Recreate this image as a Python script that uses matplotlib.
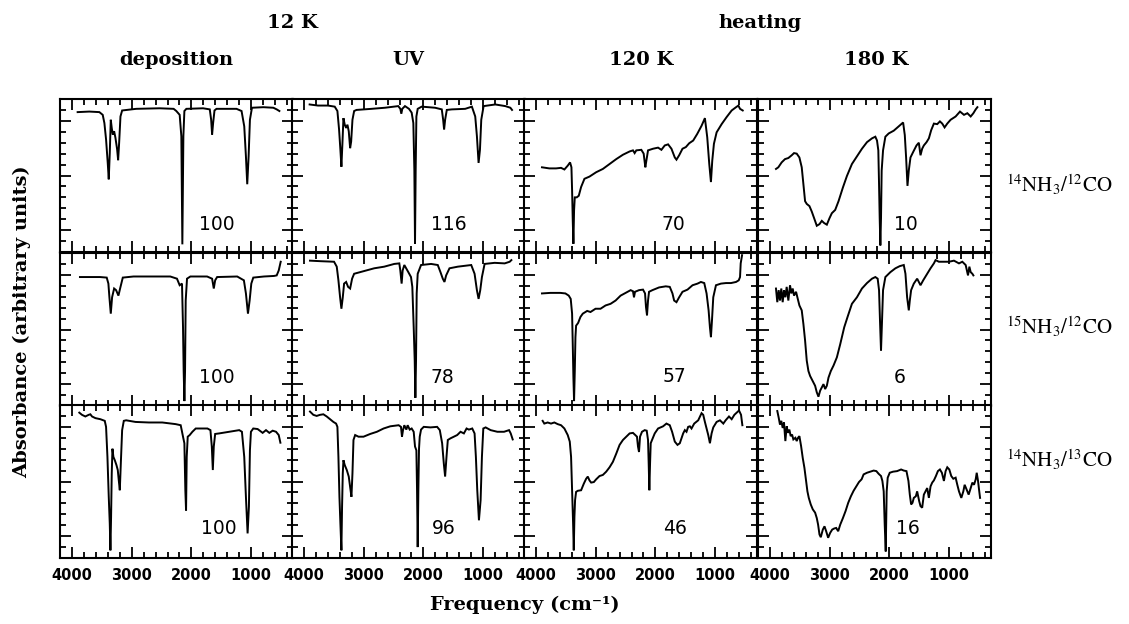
import matplotlib
matplotlib.use("Agg")
import matplotlib.pyplot as plt
from matplotlib.ticker import FixedLocator, MultipleLocator

plt.rcParams["mathtext.fontset"] = "stix"

# ---------------- data (wavenumber cm^-1, absorbance arbitrary units) -------------
wn_r0c0 = [3905,3709,3541,3485,3457,3429,3401,3384,3367,3350,3334,3317,3294,3272,3244,3227,3210,3188,3160,2925,2533,2298,2253,2197,2169,2152,2135,2118,2085,1805,1693,1670,1654,1637,1614,1581,1245,1161,1116,1088,1066,1043,1021,987,797,629,573,528]
ab_r0c0 = [2.56,2.57,2.56,2.51,2.36,2.06,1.63,1.33,1.81,2.42,2.27,2.15,2.21,2.09,1.88,1.68,2.00,2.48,2.59,2.62,2.63,2.62,2.58,2.51,2.12,0.14,2.12,2.58,2.62,2.63,2.61,2.42,2.15,2.36,2.59,2.62,2.62,2.58,2.30,1.75,1.24,1.75,2.42,2.64,2.65,2.64,2.61,2.58]

wn_r0c1 = [3905,3765,3597,3485,3440,3412,3390,3373,3356,3339,3317,3294,3272,3250,3227,3210,3188,3160,3121,2869,2645,2421,2387,2370,2354,2309,2242,2197,2169,2152,2141,2130,2118,2096,2029,1805,1693,1670,1654,1637,1609,1525,1301,1189,1133,1105,1077,1054,1032,993,797,629,545,517]
ab_r0c1 = [2.70,2.68,2.68,2.66,2.58,2.24,1.87,1.56,1.99,2.45,2.33,2.27,2.33,2.21,1.90,2.02,2.42,2.58,2.60,2.62,2.64,2.67,2.62,2.53,2.62,2.67,2.62,2.55,2.36,1.50,0.15,1.50,2.48,2.62,2.66,2.64,2.61,2.42,2.24,2.42,2.60,2.61,2.62,2.66,2.48,2.12,1.63,1.87,2.42,2.67,2.70,2.67,2.64,2.60]

wn_r0c2 = [3899,3776,3664,3580,3524,3468,3429,3406,3395,3384,3373,3362,3350,3317,3283,3244,3188,3104,2992,2880,2768,2656,2544,2432,2376,2348,2320,2236,2197,2169,2152,2124,2040,1956,1900,1844,1788,1732,1676,1648,1603,1547,1491,1435,1368,1301,1228,1172,1133,1099,1071,1049,1021,976,892,808,724,651,612,584,539]
ab_r0c2 = [1.55,1.53,1.53,1.54,1.51,1.58,1.64,1.55,1.13,0.58,0.15,0.76,1.00,1.00,1.03,1.19,1.34,1.38,1.46,1.52,1.61,1.70,1.78,1.84,1.86,1.81,1.86,1.87,1.80,1.55,1.67,1.86,1.89,1.91,1.87,1.95,1.97,1.89,1.73,1.69,1.77,1.89,1.92,1.99,2.04,2.16,2.31,2.45,2.10,1.61,1.28,1.67,1.98,2.19,2.34,2.47,2.59,2.65,2.68,2.62,2.59]

wn_r0c3 = [3899,3860,3804,3748,3692,3636,3597,3552,3507,3468,3440,3412,3384,3339,3300,3261,3216,3171,3132,3093,3048,3003,2964,2908,2852,2779,2712,2628,2544,2460,2376,2292,2236,2208,2186,2174,2163,2152,2141,2130,2107,2068,2012,1928,1844,1771,1743,1721,1698,1676,1648,1603,1547,1508,1480,1452,1424,1379,1340,1301,1256,1200,1155,1116,1077,1032,976,892,819,752,696,640,595,556,528]
ab_r0c3 = [1.52,1.55,1.64,1.70,1.72,1.77,1.81,1.80,1.73,1.55,1.24,0.93,0.88,0.84,0.74,0.62,0.48,0.51,0.57,0.53,0.50,0.62,0.71,0.77,0.93,1.18,1.39,1.61,1.75,1.89,2.01,2.08,2.11,2.04,1.86,1.24,0.62,0.12,0.62,1.49,1.86,2.11,2.17,2.22,2.30,2.37,2.14,1.73,1.21,1.49,1.73,1.83,1.95,2.00,1.77,1.89,1.95,2.01,2.08,2.23,2.35,2.34,2.39,2.35,2.28,2.35,2.42,2.48,2.57,2.51,2.54,2.48,2.54,2.61,2.65]

wn_r1c0 = [3866,3698,3530,3418,3390,3373,3350,3328,3294,3261,3222,3194,3149,2970,2690,2354,2242,2197,2158,2141,2130,2118,2107,2096,2074,2018,1738,1654,1626,1603,1570,1234,1122,1088,1054,1026,998,965,786,618,573,539,506]
ab_r1c0 = [2.36,2.36,2.36,2.35,2.24,1.99,1.69,1.99,2.15,2.12,2.02,2.15,2.35,2.37,2.37,2.37,2.33,2.21,2.24,1.44,0.64,0.09,0.64,1.93,2.33,2.37,2.37,2.33,2.15,2.30,2.36,2.37,2.30,2.06,1.69,1.93,2.24,2.35,2.37,2.38,2.39,2.48,2.64]

wn_r1c1 = [3899,3720,3496,3451,3423,3395,3373,3350,3328,3294,3261,3227,3194,3160,2992,2824,2656,2488,2404,2387,2365,2348,2320,2253,2208,2186,2163,2146,2135,2124,2113,2096,2040,1872,1760,1715,1676,1648,1620,1564,1424,1200,1144,1105,1077,1049,1021,976,808,640,556,528]
ab_r1c1 = [2.66,2.65,2.64,2.55,2.30,1.99,1.78,1.99,2.24,2.27,2.18,2.15,2.33,2.42,2.47,2.52,2.55,2.60,2.61,2.48,2.24,2.48,2.58,2.45,2.36,2.18,1.44,0.83,0.15,0.83,2.06,2.42,2.58,2.60,2.58,2.45,2.33,2.27,2.39,2.52,2.55,2.58,2.42,2.12,1.96,2.12,2.36,2.60,2.62,2.61,2.64,2.67]

wn_r1c2 = [3899,3759,3591,3507,3451,3418,3395,3384,3373,3362,3350,3339,3328,3294,3255,3216,3143,3087,3003,2919,2835,2751,2667,2583,2499,2415,2376,2359,2342,2275,2208,2174,2158,2141,2124,2107,2051,1939,1827,1760,1715,1687,1648,1603,1547,1463,1379,1295,1239,1183,1144,1110,1088,1071,1054,1032,987,903,819,735,651,606,584,573,550]
ab_r1c2 = [2.06,2.07,2.07,2.06,2.02,1.96,1.69,1.13,0.52,0.09,0.64,1.26,1.47,1.52,1.63,1.69,1.74,1.72,1.78,1.78,1.84,1.87,1.93,2.02,2.07,2.12,2.10,1.99,2.09,2.12,2.13,2.06,1.81,1.66,1.93,2.09,2.12,2.17,2.19,2.18,2.06,1.93,1.90,1.99,2.09,2.13,2.21,2.24,2.27,2.25,2.06,1.75,1.44,1.26,1.56,1.99,2.21,2.24,2.25,2.25,2.27,2.30,2.36,2.61,2.76]

wn_r1c3 = [3899,3877,3854,3832,3810,3787,3765,3742,3720,3692,3664,3642,3619,3597,3563,3541,3507,3468,3440,3412,3384,3356,3328,3300,3272,3244,3216,3188,3160,3132,3104,3076,3048,3020,2981,2936,2880,2824,2757,2701,2628,2544,2460,2376,2292,2236,2197,2174,2158,2141,2124,2107,2068,1984,1900,1827,1760,1732,1704,1676,1659,1637,1592,1536,1480,1435,1368,1312,1256,1228,1172,1088,1004,920,836,780,724,685,662,640,612,595]
ab_r1c3 = [2.15,1.90,2.12,1.93,2.15,1.90,2.12,1.99,2.18,1.93,2.21,2.06,2.15,2.02,2.09,1.99,1.84,1.75,1.50,1.20,0.83,0.64,0.55,0.49,0.43,0.37,0.25,0.17,0.28,0.34,0.40,0.31,0.37,0.52,0.64,0.74,0.89,1.13,1.44,1.63,1.87,1.99,2.15,2.25,2.33,2.36,2.33,2.12,1.56,1.01,1.56,2.12,2.36,2.45,2.52,2.56,2.58,2.42,1.99,1.75,1.93,2.12,2.24,2.33,2.21,2.30,2.42,2.52,2.61,2.67,2.64,2.64,2.64,2.66,2.61,2.64,2.58,2.39,2.55,2.45,2.42,2.39]

wn_r2c0 = [3877,3832,3776,3720,3692,3664,3608,3524,3451,3429,3406,3384,3367,3356,3345,3334,3322,3306,3283,3255,3233,3216,3199,3182,3160,3132,3093,2936,2712,2488,2264,2180,2163,2141,2118,2102,2090,2079,2062,2029,1984,1928,1816,1732,1682,1659,1642,1626,1603,1536,1368,1200,1155,1116,1088,1060,1038,1021,1004,965,892,808,752,696,640,584,539,511]
ab_r2c0 = [2.66,2.62,2.59,2.62,2.63,2.59,2.56,2.54,2.51,2.40,1.85,1.12,0.63,0.14,0.75,1.55,2.00,1.85,1.79,1.70,1.61,1.42,1.24,1.73,2.34,2.51,2.52,2.49,2.48,2.48,2.45,2.43,2.34,2.22,2.10,1.24,0.87,1.85,2.22,2.25,2.31,2.37,2.37,2.37,2.34,2.04,1.61,2.04,2.27,2.28,2.31,2.34,2.31,1.85,1.12,0.45,0.94,1.97,2.31,2.37,2.36,2.29,2.34,2.29,2.33,2.31,2.25,2.11]

wn_r2c1 = [3899,3843,3787,3731,3675,3619,3563,3507,3462,3440,3423,3406,3390,3373,3362,3350,3339,3317,3283,3250,3227,3205,3188,3171,3143,3087,3003,2891,2779,2667,2555,2415,2376,2359,2342,2320,2286,2264,2230,2197,2163,2141,2118,2107,2096,2085,2074,2062,2040,1995,1883,1771,1726,1687,1659,1637,1614,1592,1547,1491,1435,1379,1323,1278,1239,1183,1144,1122,1099,1071,1043,1021,998,959,875,763,651,567,539,506]
ab_r2c1 = [2.68,2.62,2.60,2.62,2.63,2.59,2.54,2.49,2.46,2.40,1.85,1.12,0.63,0.14,0.94,1.55,1.79,1.70,1.61,1.49,1.30,1.12,1.55,2.16,2.25,2.22,2.22,2.27,2.31,2.37,2.41,2.43,2.40,2.22,2.34,2.43,2.35,2.43,2.35,2.37,2.31,2.04,1.97,1.24,0.20,1.24,2.00,2.22,2.35,2.40,2.39,2.40,2.34,2.10,1.73,1.49,1.85,2.16,2.19,2.22,2.25,2.31,2.28,2.37,2.35,2.37,2.28,1.85,1.24,0.69,1.06,1.85,2.37,2.39,2.34,2.31,2.31,2.34,2.28,2.17]

wn_r2c2 = [3888,3860,3804,3748,3692,3636,3580,3524,3468,3434,3412,3395,3378,3367,3356,3345,3328,3300,3244,3199,3160,3132,3104,3076,3031,2992,2936,2880,2824,2768,2712,2656,2600,2544,2488,2432,2376,2337,2309,2292,2275,2258,2225,2180,2146,2124,2113,2102,2090,2079,2057,2012,1956,1872,1816,1760,1721,1676,1631,1592,1564,1536,1508,1480,1452,1424,1396,1351,1284,1228,1200,1172,1144,1116,1088,1060,1032,976,920,864,825,769,724,679,640,601,567,545]
ab_r2c2 = [2.51,2.46,2.48,2.46,2.48,2.45,2.43,2.37,2.25,2.13,1.85,1.24,0.63,0.14,0.75,1.06,1.21,1.23,1.24,1.36,1.45,1.49,1.42,1.38,1.39,1.44,1.50,1.52,1.58,1.66,1.76,1.91,2.07,2.16,2.22,2.28,2.29,2.25,2.22,2.04,1.94,2.22,2.31,2.34,2.33,2.16,1.73,1.24,1.73,2.10,2.16,2.28,2.37,2.41,2.46,2.43,2.31,2.13,2.07,2.10,2.19,2.28,2.34,2.31,2.40,2.41,2.37,2.46,2.52,2.65,2.62,2.49,2.37,2.25,2.10,2.28,2.39,2.49,2.52,2.46,2.52,2.59,2.54,2.62,2.66,2.70,2.62,2.43]

wn_r2c3 = [3877,3854,3832,3810,3787,3765,3742,3720,3698,3675,3653,3630,3608,3574,3552,3530,3507,3479,3451,3423,3395,3373,3350,3317,3283,3244,3216,3194,3171,3149,3115,3087,3059,3026,2992,2958,2925,2891,2858,2824,2779,2734,2690,2645,2600,2555,2510,2466,2432,2376,2320,2264,2219,2180,2141,2118,2096,2079,2062,2046,2029,1995,1939,1872,1805,1760,1715,1682,1659,1637,1614,1592,1558,1536,1502,1480,1452,1424,1396,1368,1340,1312,1284,1256,1222,1189,1155,1122,1088,1060,1032,998,965,931,892,864,836,797,763,741,707,674,640,612,584,556,539,517,500,483]
ab_r2c3 = [2.69,2.57,2.44,2.51,2.38,2.48,2.14,2.41,2.29,2.35,2.23,2.26,2.17,2.20,2.14,2.20,2.23,2.05,1.83,1.65,1.41,1.22,1.10,0.98,0.89,0.83,0.73,0.61,0.43,0.38,0.52,0.58,0.49,0.37,0.46,0.52,0.54,0.55,0.49,0.61,0.73,0.86,1.01,1.13,1.23,1.31,1.39,1.44,1.53,1.56,1.58,1.60,1.59,1.54,1.50,1.41,1.22,0.61,0.12,1.22,1.47,1.56,1.58,1.59,1.62,1.60,1.59,1.41,1.16,0.98,1.01,1.10,1.13,1.22,1.04,0.95,0.92,1.16,1.22,1.28,1.10,1.31,1.38,1.42,1.50,1.59,1.62,1.56,1.41,1.59,1.66,1.62,1.50,1.45,1.47,1.34,1.22,1.10,1.22,1.34,1.25,1.16,1.28,1.38,1.34,1.44,1.56,1.41,1.25,1.10]

col_titles = ["deposition", "UV", "120 K", "180 K"]
group_titles = ["12 K", "heating"]
row_labels = [r"$^{14}\mathrm{NH}_3/^{12}\mathrm{CO}$",
              r"$^{15}\mathrm{NH}_3/^{12}\mathrm{CO}$",
              r"$^{14}\mathrm{NH}_3/^{13}\mathrm{CO}$"]
panel_numbers = [["100", "116", "70", "10"],
                 ["100", "78", "57", "6"],
                 ["100", "96", "46", "16"]]
xtick_values = [4000, 3000, 2000, 1000]

spectra = [[(wn_r0c0, ab_r0c0), (wn_r0c1, ab_r0c1), (wn_r0c2, ab_r0c2), (wn_r0c3, ab_r0c3)],
           [(wn_r1c0, ab_r1c0), (wn_r1c1, ab_r1c1), (wn_r1c2, ab_r1c2), (wn_r1c3, ab_r1c3)],
           [(wn_r2c0, ab_r2c0), (wn_r2c1, ab_r2c1), (wn_r2c2, ab_r2c2), (wn_r2c3, ab_r2c3)]]

# ---------------- layout ----------------
W, H = 1129, 624
fig = plt.figure(figsize=(W / 100, H / 100), dpi=100)
fig.patch.set_facecolor("white")

col_left = [60, 292, 524, 758]
col_w = 233
row_top = [99, 253, 405]
row_h = 153

num_pos = [[(0.672, 0.18), (0.671, 0.18), (0.642, 0.18), (0.634, 0.18)],
           [(0.675, 0.185), (0.645, 0.185), (0.647, 0.19), (0.608, 0.185)],
           [(0.680, 0.19), (0.650, 0.19), (0.647, 0.19), (0.645, 0.19)]]

title_font = dict(family="DejaVu Serif", fontweight="bold", fontsize=14)

for r in range(3):
    for c in range(4):
        ax = fig.add_axes([col_left[c] / W, 1 - (row_top[r] + row_h) / H, col_w / W, row_h / H])
        x, y = spectra[r][c]
        ax.plot(x, y, color="black", lw=1.4, solid_joinstyle="miter")
        ax.set_xlim(4200, 300)
        ax.set_ylim(0, 2.8)
        ax.xaxis.set_major_locator(FixedLocator(xtick_values))
        ax.xaxis.set_minor_locator(MultipleLocator(200))
        ax.yaxis.set_major_locator(FixedLocator([0.4, 1.4, 2.4]))
        ax.yaxis.set_minor_locator(MultipleLocator(0.2))
        ax.tick_params(which="both", direction="in", top=True, right=True, width=1.3)
        ax.tick_params(which="major", length=8)
        ax.tick_params(which="minor", length=4.5)
        ax.set_yticklabels([])
        if r < 2:
            ax.set_xticklabels([])
        else:
            ax.set_xticklabels([str(v) for v in xtick_values], fontsize=10.5, fontweight="bold")
            ax.tick_params(axis="x", which="major", pad=7)
        for s in ax.spines.values():
            s.set_linewidth(1.5)
        px, py = num_pos[r][c]
        ax.text(px, py, panel_numbers[r][c], transform=ax.transAxes, ha="center", va="center",
                fontsize=13.5, family="DejaVu Sans")

# column and group titles
for t, xc in zip(col_titles, [176, 408, 641, 876]):
    fig.text(xc / W, 1 - 60 / H, t, ha="center", va="center", **title_font)
for t, xc in zip(group_titles, [292, 760]):
    fig.text(xc / W, 1 - 23 / H, t, ha="center", va="center", **title_font)

# row labels
for t, yc in zip(row_labels, [185, 327, 460]):
    fig.text(1006 / W, 1 - yc / H, t, ha="left", va="center", fontsize=15)

# axis labels
fig.text(525 / W, 1 - 605 / H, "Frequency (cm\u207b\u00b9)", ha="center", va="center", **title_font)
fig.text(22 / W, 1 - 322 / H, "Absorbance (arbitrary units)", ha="center", va="center",
         rotation=90, **title_font)

fig.savefig("out.png", dpi=100, facecolor="white")
